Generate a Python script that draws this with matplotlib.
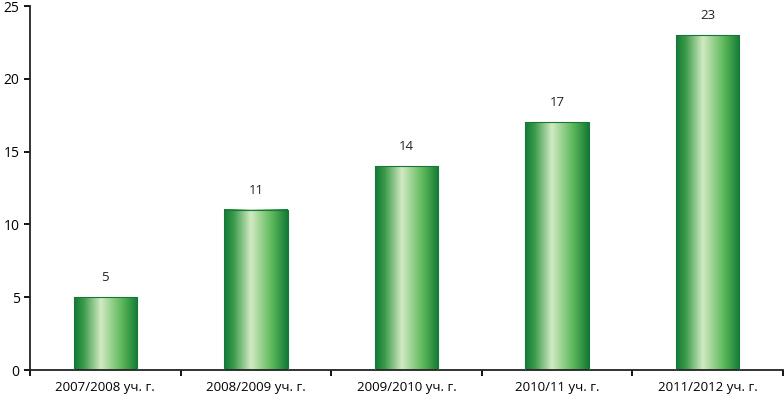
import numpy as np
import matplotlib.pyplot as plt
from matplotlib.colors import LinearSegmentedColormap

categories = ['2007/2008 уч. г.', '2008/2009 уч. г.', '2009/2010 уч. г.',
              '2010/11 уч. г.', '2011/2012 уч. г.']
values = [5, 11, 14, 17, 23]

plt.rcParams['font.family'] = ['Open Sans', 'DejaVu Sans']

fig = plt.figure(figsize=(7.84, 3.99), dpi=100)
ax = fig.add_axes([30/784, 1 - 370/399, 753/784, 364/399])

# horizontal gradient: dark edges, light centre
cmap = LinearSegmentedColormap.from_list('bar', [
    (0.0, '#137a35'), (0.15, '#3a9a4a'), (0.42, '#d2eac2'),
    (0.75, '#5cb85a'), (1.0, '#137a35')])
grad = np.linspace(0, 1, 256).reshape(1, -1)

x = np.arange(len(categories))
width = 0.42
for xi, v in zip(x, values):
    ax.imshow(grad, cmap=cmap, aspect='auto', interpolation='bicubic',
              extent=[xi - width/2, xi + width/2, 0, v], zorder=2)
    ax.bar(xi, v, width=width, fill=False, edgecolor='#17773a',
           linewidth=0.8, zorder=3)
    ax.text(xi, v + 0.9, str(v), ha='center', va='bottom', fontsize=9.5,
            color='#222222')

ax.set_xlim(-0.5, len(categories) - 0.5)
ax.set_ylim(0, 25)
ax.set_yticks(np.arange(0, 26, 5))
ax.set_xticks(x)
ax.set_xticklabels(categories, fontsize=9.5)
ax.tick_params(axis='x', length=0, pad=8)
ax.set_xticks(np.arange(-0.5, len(categories), 1), minor=True)
ax.tick_params(axis='x', which='minor', length=4, width=1.3, direction='out')
ax.tick_params(axis='y', labelsize=10, length=4, width=1.3, direction='out')

for s in ['top', 'right']:
    ax.spines[s].set_visible(False)
for s in ['left', 'bottom']:
    ax.spines[s].set_linewidth(1.3)
    ax.spines[s].set_color('#222222')

fig.savefig('out.png', dpi=100)
